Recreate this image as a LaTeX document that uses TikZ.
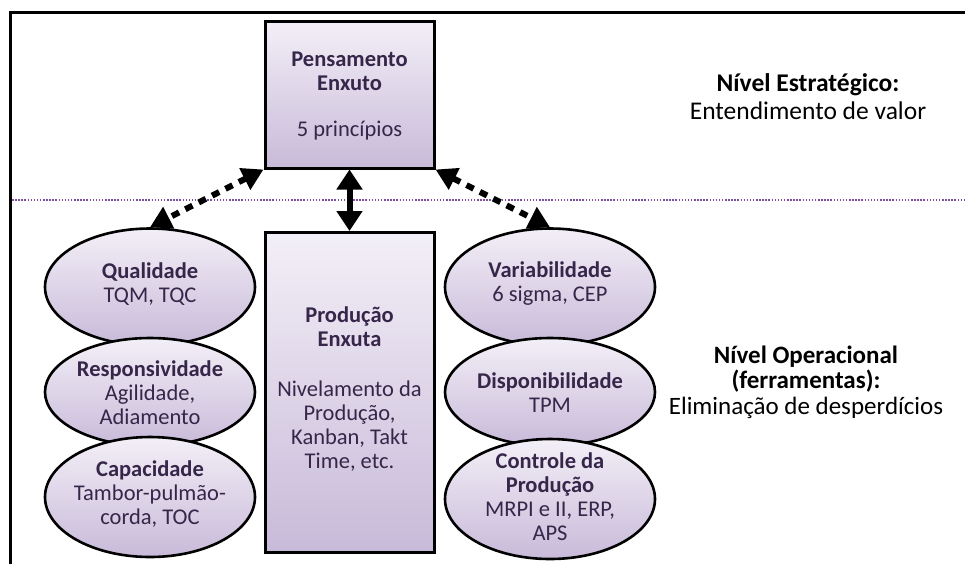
\documentclass[tikz,border=0pt]{standalone}
\usepackage{fontspec}
\setmainfont{Carlito}
\usetikzlibrary{arrows.meta,shapes.geometric}
\definecolor{boxtext}{HTML}{35264A}
\definecolor{shadetop}{HTML}{F3EFF7}
\definecolor{shadebot}{HTML}{C8BAD9}
\definecolor{levelline}{HTML}{7E4FA0}
\tikzset{
  block/.style={draw=black, line width=3pt, rectangle, top color=shadetop, bottom color=shadebot, inner sep=0pt},
  oval/.style={draw=black, line width=2.6pt, ellipse, top color=shadetop, bottom color=shadebot, inner sep=0pt, minimum width=210pt},
  boxlabel/.style={align=center, text=boxtext, font=\fontsize{22.5}{24}\selectfont, inner sep=0pt},
  sidelabel/.style={align=center, text=black, font=\fontsize{25.5}{28}\selectfont, inner sep=0pt},
  dasharrow/.style={line width=6pt, dash pattern=on 8pt off 7pt, {Triangle[length=21pt,width=23pt]}-{Triangle[length=21pt,width=23pt]}},
  solidarrow/.style={line width=6pt, {Triangle[length=20pt,width=25pt]}-{Triangle[length=20pt,width=25pt]}}
}
\begin{document}
\begin{tikzpicture}[x=1pt,y=-1pt]
\useasboundingbox (0,0) rectangle (965,563);
\fill[white] (0,0) rectangle (965,563);

% outer frame (top and left edges)
\draw[line width=3pt] (10,570) -- (10,12) -- (970,12);

% separator between the strategic and operational levels
\draw[levelline, line width=2pt, dash pattern=on 1.5pt off 1.6pt] (12,200) -- (965,200);

% strategic block
\node[block, minimum width=169pt, minimum height=147pt] (pe) at (349.5,94.5) {};
\node[boxlabel] (pet) at (349.5,96) {\textbf{Pensamento}\\\textbf{Enxuto}\\[22pt]5 princípios};

% central operational block
\node[block, minimum width=169pt, minimum height=320pt] (pr) at (349.5,392.5) {};
\node[boxlabel] (prt) at (349.5,389) {\textbf{Produção}\\\textbf{Enxuta}\\[26pt]Nivelamento da\\Produção,\\Kanban, Takt\\Time, etc.};

% left column of tools
\node[oval, minimum height=117pt] (q) at (150,287) {};
\node[oval, minimum height=108pt] (r) at (150,392) {};
\node[oval, minimum height=120pt] (c) at (150,497) {};
\node[boxlabel] (qt) at (150,284) {\textbf{Qualidade}\\TQM, TQC};
\node[boxlabel] (rt) at (150,393) {\textbf{Responsividade}\\Agilidade,\\Adiamento};
\node[boxlabel] (ct) at (150,494) {\textbf{Capacidade}\\Tambor-pulmão-\\corda, TOC};

% right column of tools
\node[oval, minimum height=117pt] (v) at (550,287) {};
\node[oval, minimum height=108pt] (d) at (550,392) {};
\node[oval, minimum height=120pt] (k) at (550,499) {};
\node[boxlabel] (vt) at (550,284) {\textbf{Variabilidade}\\6 sigma, CEP};
\node[boxlabel] (dt) at (550,393) {\textbf{Disponibilidade}\\TPM};
\node[boxlabel] (kt) at (550,497) {\textbf{Controle da}\\\textbf{Produção}\\MRPI e II, ERP,\\APS};

% level captions
\node[sidelabel] (strat) at (808,97) {\textbf{Nível Estratégico:}\\Entendimento de valor};
\node[sidelabel, font=\fontsize{25}{25.5}\selectfont] (oper) at (806,382) {\textbf{Nível Operacional}\\\textbf{(ferramentas):}\\Eliminação de desperdícios};

% links between the levels
\draw[dasharrow] (pe.south west) -- (q.north);
\draw[dasharrow] (pe.south east) -- (v.north);
\draw[solidarrow] (pe.south) -- (pr.north);
\end{tikzpicture}
\end{document}
